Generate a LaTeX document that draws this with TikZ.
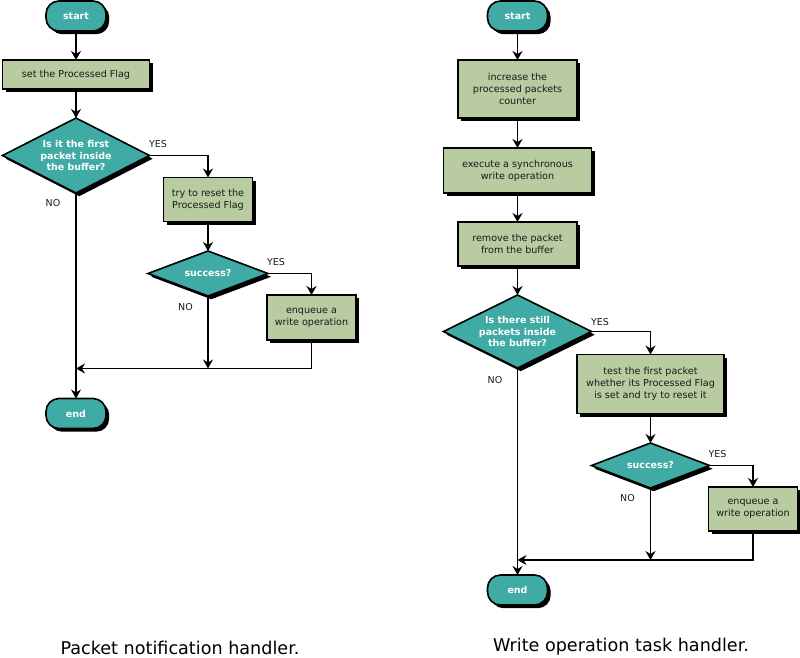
\documentclass[tikz,border=0pt]{standalone}
\usepackage{fontspec}
\setmainfont{DejaVu Sans}
\usetikzlibrary{shapes.geometric,shadows,arrows.meta}
\definecolor{tealfill}{RGB}{64,170,164}
\definecolor{greenfill}{RGB}{184,203,161}
\definecolor{txt}{RGB}{25,25,25}
\begin{document}
\begin{tikzpicture}[x=1pt,y=-1pt,
  base/.style={draw=black, line width=1.6pt, inner sep=0pt, outer sep=0pt,
    drop shadow={shadow xshift=3.2pt, shadow yshift=-3.2pt, opacity=1, fill=black}},
  term/.style={base, fill=tealfill, rounded corners=13pt, minimum width=60pt, minimum height=30pt,
    text=white, font=\bfseries\fontsize{9.5}{11.7}\selectfont},
  proc/.style={base, fill=greenfill, align=center, text=txt, font=\fontsize{9.6}{11.7}\selectfont},
  dec/.style={base, diamond, fill=tealfill, align=center, text=white, font=\bfseries\fontsize{9.5}{11.7}\selectfont},
  lbl/.style={text=txt, inner sep=0pt, font=\fontsize{9.5}{11}\selectfont},
  captext/.style={text=black, inner sep=0pt, anchor=base, font=\fontsize{17.6}{20}\selectfont},
  arr/.style={line width=1.5pt, -{Stealth[length=9pt,width=10pt,inset=3pt]}}]
\useasboundingbox (0,0) rectangle (800,657);
% ---------- left chart ----------
\node[term] (ls) at (76,16) {start};
\node[proc, minimum width=147pt, minimum height=29pt] (lb1) at (76,74.5) {set the Processed Flag};
\node[dec, minimum width=147pt, minimum height=75pt, aspect=1.96] (ld1) at (76,155.5) {Is it the first\\packet inside\\the buffer?};
\node[proc, minimum width=89pt, minimum height=44pt] (lb2) at (208,199.5) {try to reset the\\Processed Flag};
\node[dec, minimum width=120pt, minimum height=45pt, aspect=2.67] (ld2) at (208,273.5) {success?};
\node[proc, minimum width=89pt, minimum height=45pt] (lb3) at (311.5,317.5) {enqueue a\\write operation};
\node[term] (le) at (76,413.5) {end};
\coordinate (lm1) at (76,368.5);
\coordinate (lm2) at (208,368.5);
\node[lbl] (ly1) at (158,144) {YES};
\node[lbl] (ln1) at (53,203.5) {NO};
\node[lbl] (ly2) at (276,262.5) {YES};
\node[lbl] (ln2) at (185.5,307) {NO};
\draw[arr] (ls) -- (lb1);
\draw[arr] (lb1) -- (ld1);
\draw[arr] (ld1.east) -| (lb2.north);
\draw[arr] (lb2) -- (ld2);
\draw[arr] (ld2.east) -| (lb3.north);
\draw[arr] (ld2.south) -- (lm2);
\draw[arr] (lb3.south) |- (lm1);
\draw[arr] (ld1.south) -- (le.north);
\node[captext] (lc) at (180,654) {Packet notification handler.};
% ---------- right chart ----------
\node[term] (rs) at (517.5,16) {start};
\node[proc, minimum width=119pt, minimum height=58pt] (rb1) at (517.5,89) {increase the\\processed packets\\counter};
\node[proc, minimum width=148pt, minimum height=45pt] (rb2) at (517.5,170.5) {execute a synchronous\\write operation};
\node[proc, minimum width=119pt, minimum height=44pt] (rb3) at (517.5,244) {remove the packet\\from the buffer};
\node[dec, minimum width=148pt, minimum height=73pt, aspect=2.03] (rd1) at (517.5,331.5) {Is there still\\packets inside\\the buffer?};
\node[proc, minimum width=147pt, minimum height=59pt] (rb4) at (650.5,384) {test the first packet\\whether its Processed Flag\\is set and try to reset it};
\node[dec, minimum width=118pt, minimum height=45pt, aspect=2.62] (rd2) at (650.5,465.5) {success?};
\node[proc, minimum width=89pt, minimum height=44pt] (rb5) at (753,509) {enqueue a\\write operation};
\node[term] (re) at (517.5,590) {end};
\coordinate (rm1) at (517.5,560);
\coordinate (rm2) at (650.5,560);
\node[lbl] (ry1) at (600,322) {YES};
\node[lbl] (rn1) at (495,380.5) {NO};
\node[lbl] (ry2) at (717.5,454) {YES};
\node[lbl] (rn2) at (627.5,498) {NO};
\draw[arr] (rs) -- (rb1);
\draw[arr] (rb1) -- (rb2);
\draw[arr] (rb2) -- (rb3);
\draw[arr] (rb3) -- (rd1);
\draw[arr] (rd1.east) -| (rb4.north);
\draw[arr] (rb4) -- (rd2);
\draw[arr] (rd2.east) -| (rb5.north);
\draw[arr] (rd2.south) -- (rm2);
\draw[arr] (rb5.south) |- (rm1);
\draw[arr] (rd1.south) -- (re.north);
\node[captext] (rc) at (621,651) {Write operation task handler.};
\end{tikzpicture}
\end{document}
